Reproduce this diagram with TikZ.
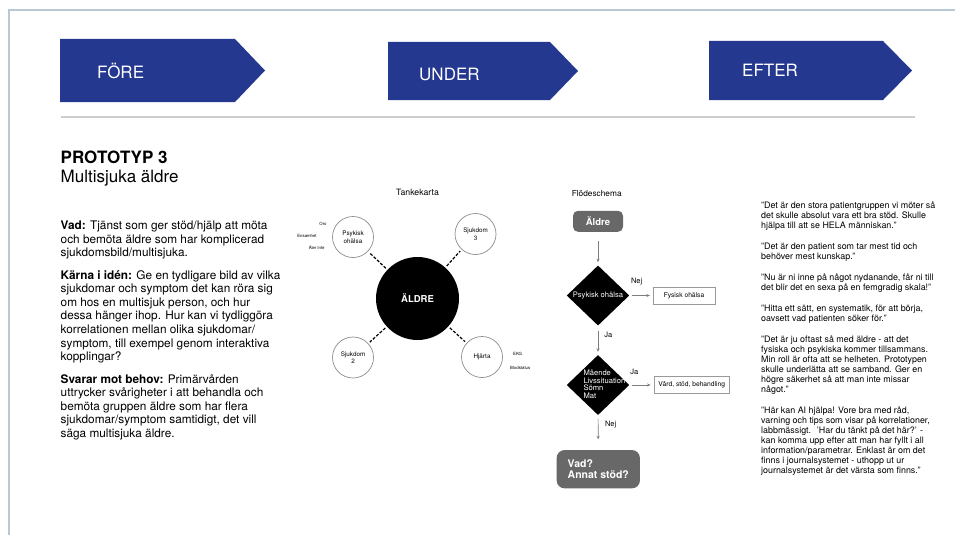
\documentclass[tikz,border=0pt]{standalone}
\usepackage{fontspec}
\setmainfont{TeX Gyre Heros}
\usetikzlibrary{shapes.geometric,arrows.meta}
\definecolor{chevblue}{RGB}{36,56,143}
\definecolor{framecol}{RGB}{184,200,212}
\definecolor{rulegray}{RGB}{205,205,205}
\definecolor{boxgray}{RGB}{104,104,104}
\definecolor{arrgray}{RGB}{125,125,125}
\newcommand{\fsz}[2]{\fontsize{#1}{#2}\selectfont}
\begin{document}
\begin{tikzpicture}[x=1pt,y=-1pt,
  chevtext/.style={text=white, font=\fsz{17}{20}, inner sep=0pt, anchor=base west},
  bigc/.style={circle, fill=black, minimum size=83pt, inner sep=0pt, text=white, font=\bfseries\fsz{9.5}{11}},
  smallc/.style={circle, draw=black!45, line width=0.7pt, fill=white, minimum size=41pt, inner sep=0pt, align=center, font=\fsz{6.3}{7.6}},
  dashcon/.style={line width=1.2pt, dash pattern=on 3pt off 1.6pt, shorten <=2pt, shorten >=2pt},
  minilabel/.style={font=\fsz{4.3}{5}, inner sep=0pt},
  dia/.style={diamond, fill=black, minimum width=62.6pt, minimum height=60pt, inner sep=0pt},
  diatext/.style={text=white, font=\fsz{7.6}{7.5}, inner sep=0pt},
  gbox/.style={rectangle, fill=boxgray, text=white, inner sep=0pt},
  obox/.style={rectangle, draw=black!40, line width=0.6pt, fill=white, inner sep=0pt, font=\fsz{6.7}{8}},
  arr/.style={draw=arrgray, line width=0.7pt, -{Stealth[length=3.5pt, width=3pt]}},
  flab/.style={font=\fsz{7.5}{9}, inner sep=0pt},
  bodytext/.style={inner sep=0pt, anchor=base west, align=left}
]
\useasboundingbox (0,0) rectangle (955,535);
\fill[white] (0,0) rectangle (955,535);
% frame
\draw[framecol, line width=2pt] (9,535) -- (9,10.5) -- (955,10.5);
% chevrons
\fill[chevblue] (60,39) -- (235,39) -- (265,70.5) -- (235,102) -- (60,102) -- cycle;
\fill[chevblue] (388,42) -- (550,42) -- (578,71) -- (550,100) -- (388,100) -- cycle;
\fill[chevblue] (709,41) -- (883,41) -- (912,70.5) -- (883,100) -- (709,100) -- cycle;
\node[chevtext] (tfore) at (97,78.5) {FÖRE};
\node[chevtext] (tunder) at (419,80) {UNDER};
\node[chevtext] (tefter) at (742,76) {EFTER};
\draw[rulegray, line width=1.8pt] (60.8,117) -- (915,117);
% title
\node[bodytext, font=\bfseries\fsz{17}{20}] (title) at (60.5,163) {PROTOTYP 3};
\node[bodytext, font=\fsz{17}{20}] (subtitle) at (60.5,182.5) {Multisjuka äldre};
% left text (anchor at baseline of the last line)
\node[bodytext, font=\fsz{11.8}{13.6}] (lefttext) at (60.5,437.5) {%
\textbf{Vad:} Tjänst som ger stöd/hjälp att möta\\
och bemöta äldre som har komplicerad\\
sjukdomsbild/multisjuka.\\[8.8pt]
\textbf{Kärna i idén:} Ge en tydligare bild av vilka\\
sjukdomar och symptom det kan röra sig\\
om hos en multisjuk person, och hur\\
dessa hänger ihop. Hur kan vi tydliggöra\\
korrelationen mellan olika sjukdomar/\\
symptom, till exempel genom interaktiva\\
kopplingar?\\[8.8pt]
\textbf{Svarar mot behov:} Primärvården\\
uttrycker svårigheter i att behandla och\\
bemöta gruppen äldre som har flera\\
sjukdomar/symptom samtidigt, det vill\\
säga multisjuka äldre.};
% mind map
\node[font=\fsz{8.7}{10}, inner sep=0pt] (mmtitle) at (417.5,192.5) {Tankekarta};
\node[bigc] (c) at (417.5,298.5) {ÄLDRE};
\node[smallc] (p) at (353,237) {Psykisk\\ohälsa};
\node[smallc] (s3) at (475.5,234) {Sjukdom\\3};
\node[smallc] (s2) at (353,357.5) {Sjukdom\\2};
\node[smallc] (h) at (482,357) {Hjärta};
\draw[dashcon] (c) -- (p);
\draw[dashcon] (c) -- (s3);
\draw[dashcon] (c) -- (s2);
\draw[dashcon] (c) -- (h);
\node[minilabel] (oro) at (323,224) {Oro};
\node[minilabel] (ensam) at (307,236) {Ensamhet};
\node[minilabel] (ater) at (316.7,247) {Åter inte};
\node[minilabel, anchor=west] (ekg) at (513,354) {EKG};
\node[minilabel, anchor=west] (blod) at (510,368) {Blodstatus};
% flowchart
\node[font=\fsz{8.3}{10}, inner sep=0pt] (fctitle) at (596.7,194) {Flödeschema};
\node[gbox, minimum width=50pt, minimum height=21pt, rounded corners=5pt, font=\bfseries\fsz{9.5}{11}] (a) at (598,221.3) {Äldre};
\node[dia] (d1) at (598,295.5) {};
\node[diatext] (d1t) at (d1) {Psykisk ohälsa};
\node[obox, minimum width=61.7pt, minimum height=16.7pt] (f) at (684,295.5) {Fysisk ohälsa};
\node[dia] (d2) at (598,385) {};
\node[diatext, anchor=west, align=left] (d2t) at (583.3,384) {Mående\\Livssituation\\Sömn\\Mat};
\node[obox, minimum width=74.7pt, minimum height=16.7pt] (v) at (691.7,385) {Vård, stöd, behandling};
\node[gbox, minimum width=83.3pt, minimum height=38.3pt, rounded corners=8pt, align=left, font=\bfseries\fsz{10.5}{11.3}] (e) at (598.3,469.2) {Vad?\\Annat stöd?};
\draw[arr, shorten <=9pt, shorten >=3pt] (a) -- (d1);
\draw[arr, shorten <=2pt, shorten >=3pt] (d1) -- (f);
\draw[arr, shorten <=5pt, shorten >=3pt] (d1) -- (d2);
\draw[arr, shorten <=2pt, shorten >=3.5pt] (d2) -- (v);
\draw[arr, shorten <=3.5pt, shorten >=10.5pt] (d2) -- (e);
\node[flab] (l1) at (636.7,281.7) {Nej};
\node[flab] (l2) at (608.3,335) {Ja};
\node[flab] (l3) at (634.3,371.7) {Ja};
\node[flab] (l4) at (610.7,425) {Nej};
% right quotes (anchor at baseline of the last line)
\node[bodytext, font=\fsz{8.9}{10.1}] (quotes) at (761,473.8) {%
"Det är den stora patientgruppen vi möter så\\
det skulle absolut vara ett bra stöd. Skulle\\
hjälpa till att se HELA människan."\\[10.6pt]
"Det är den patient som tar mest tid och\\
behöver mest kunskap."\\[10.6pt]
"Nu är ni inne på något nydanande, får ni till\\
det blir det en sexa på en femgradig skala!"\\[10.6pt]
"Hitta ett sätt, en systematik, för att börja,\\
oavsett vad patienten söker för."\\[10.6pt]
"Det är ju oftast så med äldre - att det\\
fysiska och psykiska kommer tillsammans.\\
Min roll är ofta att se helheten. Prototypen\\
skulle underlätta att se samband. Ger en\\
högre säkerhet så att man inte missar\\
något."\\[10.6pt]
"Här kan AI hjälpa! Vore bra med råd,\\
varning och tips som visar på korrelationer,\\
labbmässigt. \ 'Har du tänkt på det här?' -\\
kan komma upp efter att man har fyllt i all\\
information/parametrar. Enklast är om det\\
finns i journalsystemet - uthopp ut ur\\
journalsystemet är det värsta som finns."};
\end{tikzpicture}
\end{document}
